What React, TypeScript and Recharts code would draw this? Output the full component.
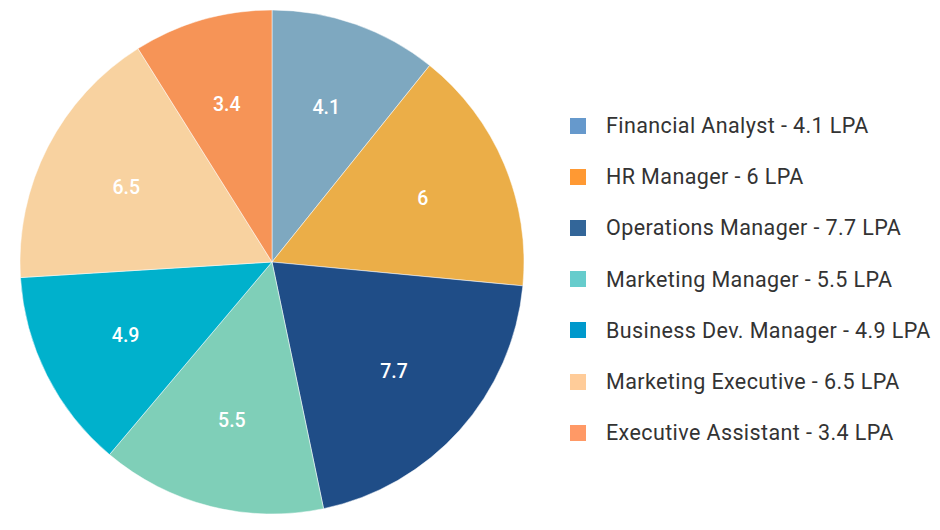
import { Cell, Legend, Pie, PieChart } from "recharts";

const roles = [
  "Financial Analyst",
  "HR Manager",
  "Operations Manager",
  "Marketing Manager",
  "Business Dev. Manager",
  "Marketing Executive",
  "Executive Assistant",
];
const salaries = [4.1, 6, 7.7, 5.5, 4.9, 6.5, 3.4];
const sliceColors = ["#7ea8c0", "#ebae48", "#1f4d87", "#7fcfb8", "#00b1cc", "#f8d2a0", "#f69457"];
const legendColors = ["#6699cc", "#ff9933", "#336699", "#66cccc", "#0099cc", "#ffcc99", "#ff9966"];

const data = roles.map((name, i) => ({ name, value: salaries[i] }));

const RADIAN = Math.PI / 180;

function renderLabel(props: any) {
  const { cx, cy, midAngle, outerRadius, value } = props;
  const r = outerRadius * 0.65;
  const x = cx + r * Math.cos(-midAngle * RADIAN);
  const y = cy + r * Math.sin(-midAngle * RADIAN);
  return (
    <text
      x={x}
      y={y}
      fill="#fff"
      textAnchor="middle"
      dominantBaseline="central"
      style={{ fontFamily: "Roboto, sans-serif", fontSize: 19.5, fontWeight: 500 }}
    >
      {value}
    </text>
  );
}

function LegendList() {
  return (
    <div style={{ fontFamily: "Roboto, sans-serif", fontSize: 21.5, letterSpacing: 0.4, color: "#333" }}>
      {data.map((d, i) => (
        <div key={d.name} style={{ display: "flex", alignItems: "center", height: 51.2 }}>
          <span style={{ width: 16, height: 16, background: legendColors[i], display: "inline-block", marginRight: 20, flexShrink: 0 }} />
          <span style={{ whiteSpace: "nowrap" }}>{`${d.name} - ${d.value} LPA`}</span>
        </div>
      ))}
    </div>
  );
}

export default function App() {
  return (
    <div style={{ position: "absolute", left: 0, top: 0, width: 940, height: 530, background: "#fff" }}>
      <PieChart width={940} height={530} margin={{ top: 0, right: 0, bottom: 0, left: 0 }}>
        <Pie
          data={data}
          dataKey="value"
          nameKey="name"
          cx={272}
          cy={262}
          outerRadius={252}
          startAngle={90}
          endAngle={-270}
          stroke="#fff"
          strokeWidth={0.5}
          label={renderLabel}
          labelLine={false}
          isAnimationActive={false}
        >
          {data.map((d, i) => (
            <Cell key={d.name} fill={sliceColors[i]} />
          ))}
        </Pie>
        <Legend
          content={<LegendList />}
          wrapperStyle={{ left: 570, top: 100, width: 370 }}
        />
      </PieChart>
    </div>
  );
}
